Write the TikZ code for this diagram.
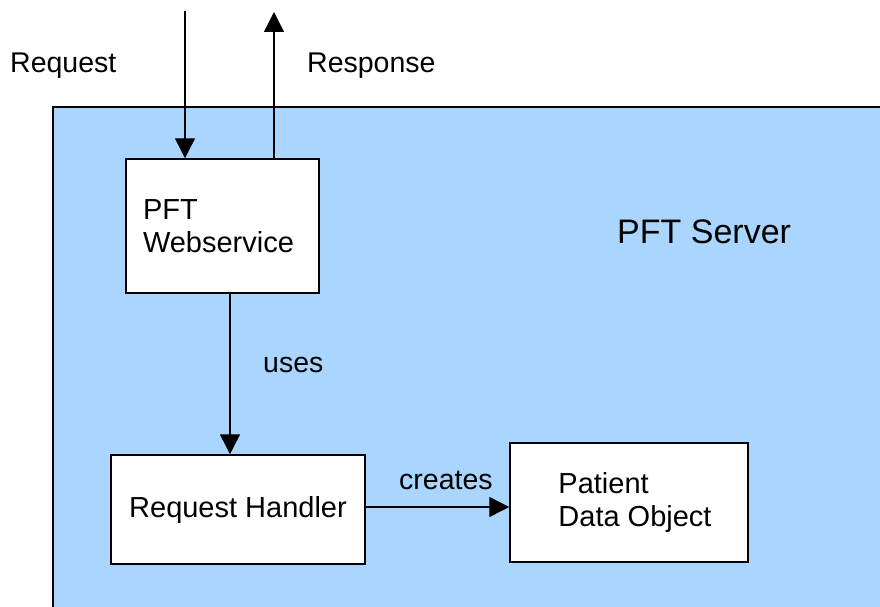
\documentclass[tikz,border=0pt]{standalone}
\usepackage{fontspec}
\setmainfont{Liberation Sans}
\usetikzlibrary{arrows.meta}
\definecolor{serverblue}{RGB}{170,213,254}
\tikzset{
  box/.style={draw=black, fill=white, line width=1.5pt, inner ysep=0pt,
              font=\fontsize{29}{33}\selectfont},
  lbl/.style={font=\fontsize{28.5}{33}\selectfont, inner sep=0pt, anchor=base west},
  arr/.style={line width=1.4pt, -{Triangle[length=20pt,width=20pt]}},
}
\begin{document}
\begin{tikzpicture}[x=1pt,y=-1pt]
\useasboundingbox (0,0) rectangle (880,607);
% server area
\fill[serverblue] (53,107) rectangle (885,612);
\draw[line width=1.5pt] (885,107) -- (53,107) -- (53,612);
\node[lbl, font=\fontsize{34}{38}\selectfont] (srv) at (617,243) {PFT Server};
% boxes
\node[box, text width=159pt, inner xsep=17pt,
      minimum height=134pt, align=left] (ws) at (222.5,226) {PFT\\Webservice};
\node[box, minimum width=254pt,
      minimum height=109pt] (rh) at (238,509.5) {Request Handler};
\node[box, inner xsep=0pt, minimum width=238pt,
      minimum height=119pt, align=left] (pdo) at (629,502.5)
      {\hspace*{12pt}Patient\\\hspace*{12pt}Data Object};
% external connectors
\coordinate (reqtop) at (185,11);
\coordinate (resptop) at (274,12);
\draw[arr] (reqtop) -- (ws.north -| reqtop);
\draw[arr] (ws.north -| resptop) -- (resptop);
\node[lbl] (req) at (10,73) {Request};
\node[lbl] (resp) at (307,73) {Response};
% internal connectors
\coordinate (usesx) at (230,0);
\coordinate (crey) at (0,507);
\draw[arr] (ws.south -| usesx) -- (rh.north -| usesx);
\node[lbl] (uses) at (263,372) {uses};
\draw[arr] (rh.east |- crey) -- (pdo.west |- crey);
\node[lbl] (cre) at (399,489) {creates};
\end{tikzpicture}
\end{document}
